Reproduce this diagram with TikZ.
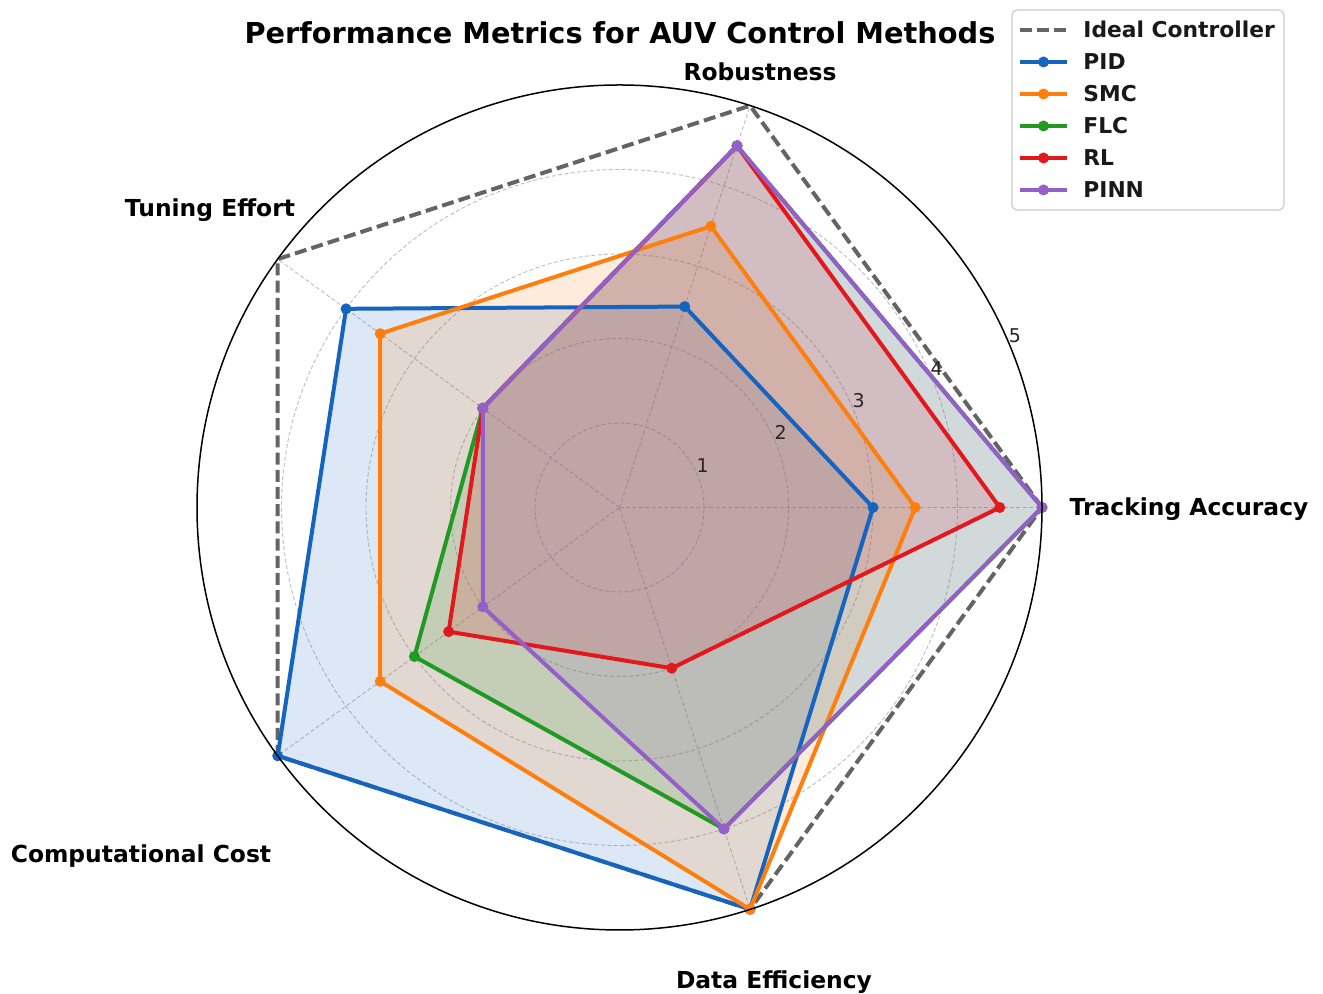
\documentclass[tikz,border=0pt]{standalone}
\usepackage{fontspec}
\setmainfont{DejaVu Sans}
\usetikzlibrary{calc}
\definecolor{pidc}{RGB}{21,101,192}
\definecolor{smcc}{RGB}{255,127,14}
\definecolor{flcc}{RGB}{34,153,34}
\definecolor{rlc}{RGB}{227,24,28}
\definecolor{pinnc}{RGB}{148,95,200}
\definecolor{idealc}{RGB}{100,100,100}
\definecolor{gridc}{RGB}{190,190,190}
\definecolor{legc}{RGB}{204,204,204}
\definecolor{tickc}{RGB}{38,38,38}
\begin{document}
\begin{tikzpicture}[x=0.5pt,y=0.5pt,
  gridline/.style={draw=gridc, line width=0.45pt, dash pattern=on 2pt off 1.2pt},
  serie/.style={line width=2pt, line join=round},
  serfill/.style={fill opacity=0.15},
  idealline/.style={draw=idealc, line width=2pt, dash pattern=on 6pt off 2.6pt},
  axlabel/.style={font=\fontsize{11.7}{14}\selectfont\bfseries, inner sep=0pt, anchor=base, text=black},
  ticklabel/.style={font=\fontsize{9.5}{11}\selectfont, inner sep=0pt, text=tickc},
  legtext/.style={font=\fontsize{10.9}{13}\selectfont\bfseries, inner sep=0pt, anchor=base west, text=black!90}]
\useasboundingbox (0,0) rectangle (1323,994);
\fill[white] (0,0) rectangle (1323,994);

\node[font=\fontsize{14.4}{17}\selectfont\bfseries, inner sep=0pt, anchor=base] (title) at (620,950.5) {Performance Metrics for AUV Control Methods};

\begin{scope}[shift={(619.5,486.5)}]
  \coordinate (O) at (0,0);
  % grid
  \foreach \r in {42.25pt,84.5pt,126.75pt,169pt}
    \draw[gridline] (O) circle (\r);
  \foreach \a in {0,72,144,216,288}
    \draw[gridline] (O) -- (\a:211.25pt);

  % coordinates
  \coordinate (i1) at (0:211.25pt);
  \coordinate (i2) at (72:211.25pt);
  \coordinate (i3) at (144:211.25pt);
  \coordinate (i4) at (216:211.25pt);
  \coordinate (i5) at (288:211.25pt);

  \coordinate (pid1) at (0:126.75pt);
  \coordinate (pid2) at (72:105.625pt);
  \coordinate (pid3) at (144:169pt);
  \coordinate (pid4) at (216:211.25pt);
  \coordinate (pid5) at (288:211.25pt);

  \coordinate (smc1) at (0:147.875pt);
  \coordinate (smc2) at (72:147.875pt);
  \coordinate (smc3) at (144:147.875pt);
  \coordinate (smc4) at (216:147.875pt);
  \coordinate (smc5) at (288:211.25pt);

  \coordinate (flc1) at (0:211.25pt);
  \coordinate (flc2) at (72:190.125pt);
  \coordinate (flc3) at (144:84.5pt);
  \coordinate (flc4) at (216:126.75pt);
  \coordinate (flc5) at (288:169pt);

  \coordinate (rl1) at (0:190.125pt);
  \coordinate (rl2) at (72:190.125pt);
  \coordinate (rl3) at (144:84.5pt);
  \coordinate (rl4) at (216:105.625pt);
  \coordinate (rl5) at (288:84.5pt);

  \coordinate (pinn1) at (0:211.25pt);
  \coordinate (pinn2) at (72:190.125pt);
  \coordinate (pinn3) at (144:84.5pt);
  \coordinate (pinn4) at (216:84.5pt);
  \coordinate (pinn5) at (288:169pt);

  % fills
  \foreach \s/\c in {pid/pidc, smc/smcc, flc/flcc, rl/rlc, pinn/pinnc}
    \fill[\c, serfill] (\s1) -- (\s2) -- (\s3) -- (\s4) -- (\s5) -- cycle;

  % ideal
  \draw[idealline] (i1) -- (i2) -- (i3) -- (i4) -- (i5) -- cycle;

  % lines and markers
  \foreach \s/\c in {pid/pidc, smc/smcc, flc/flcc, rl/rlc, pinn/pinnc}{
    \draw[serie, \c] (\s1) -- (\s2) -- (\s3) -- (\s4) -- (\s5) -- cycle;
    \foreach \k in {1,...,5} \fill[\c] (\s\k) circle (2.75pt);
  }

  % outer circle
  \draw[black, line width=0.75pt] (O) circle (211.25pt);

  % tick labels
  \foreach \v/\r in {1/42.25pt,2/84.5pt,3/126.75pt,4/169pt,5/211.25pt}
    \node[ticklabel] (tick\v) at ([shift={(5,10)}]22.5:\r) {\v};
\end{scope}

% axis labels
\node[axlabel] (lta) at (1189,478.5) {Tracking Accuracy};
\node[axlabel] (lrob) at (760,913.5) {Robustness};
\node[axlabel] (ltun) at (210,777.5) {Tuning Effort};
\node[axlabel] (lcc) at (141,131.5) {Computational Cost};
\node[axlabel] (lde) at (774,5.5) {Data Efficiency};

% legend
\draw[draw=legc, fill=white, fill opacity=0.8, line width=0.6pt, rounded corners=2.5pt] (1012,784) rectangle (1284,984);
\coordinate (la0) at (1020,964); \coordinate (lb0) at (1067,964);
\draw[idealline] (la0) -- (lb0);
\node[legtext] (leg0) at (1083,956) {Ideal Controller};
\foreach \c/\t/\y [count=\n] in {pidc/PID/932, smcc/SMC/900, flcc/FLC/868, rlc/RL/836, pinnc/PINN/804}{
  \coordinate (la\n) at (1020,\y);
  \coordinate (lb\n) at (1067,\y);
  \draw[serie, \c] (la\n) -- (lb\n);
  \fill[\c] ($(la\n)!0.5!(lb\n)$) circle (2.75pt);
  \node[legtext] (leg\n) at (1083,\y-8) {\t};
}
\end{tikzpicture}
\end{document}
